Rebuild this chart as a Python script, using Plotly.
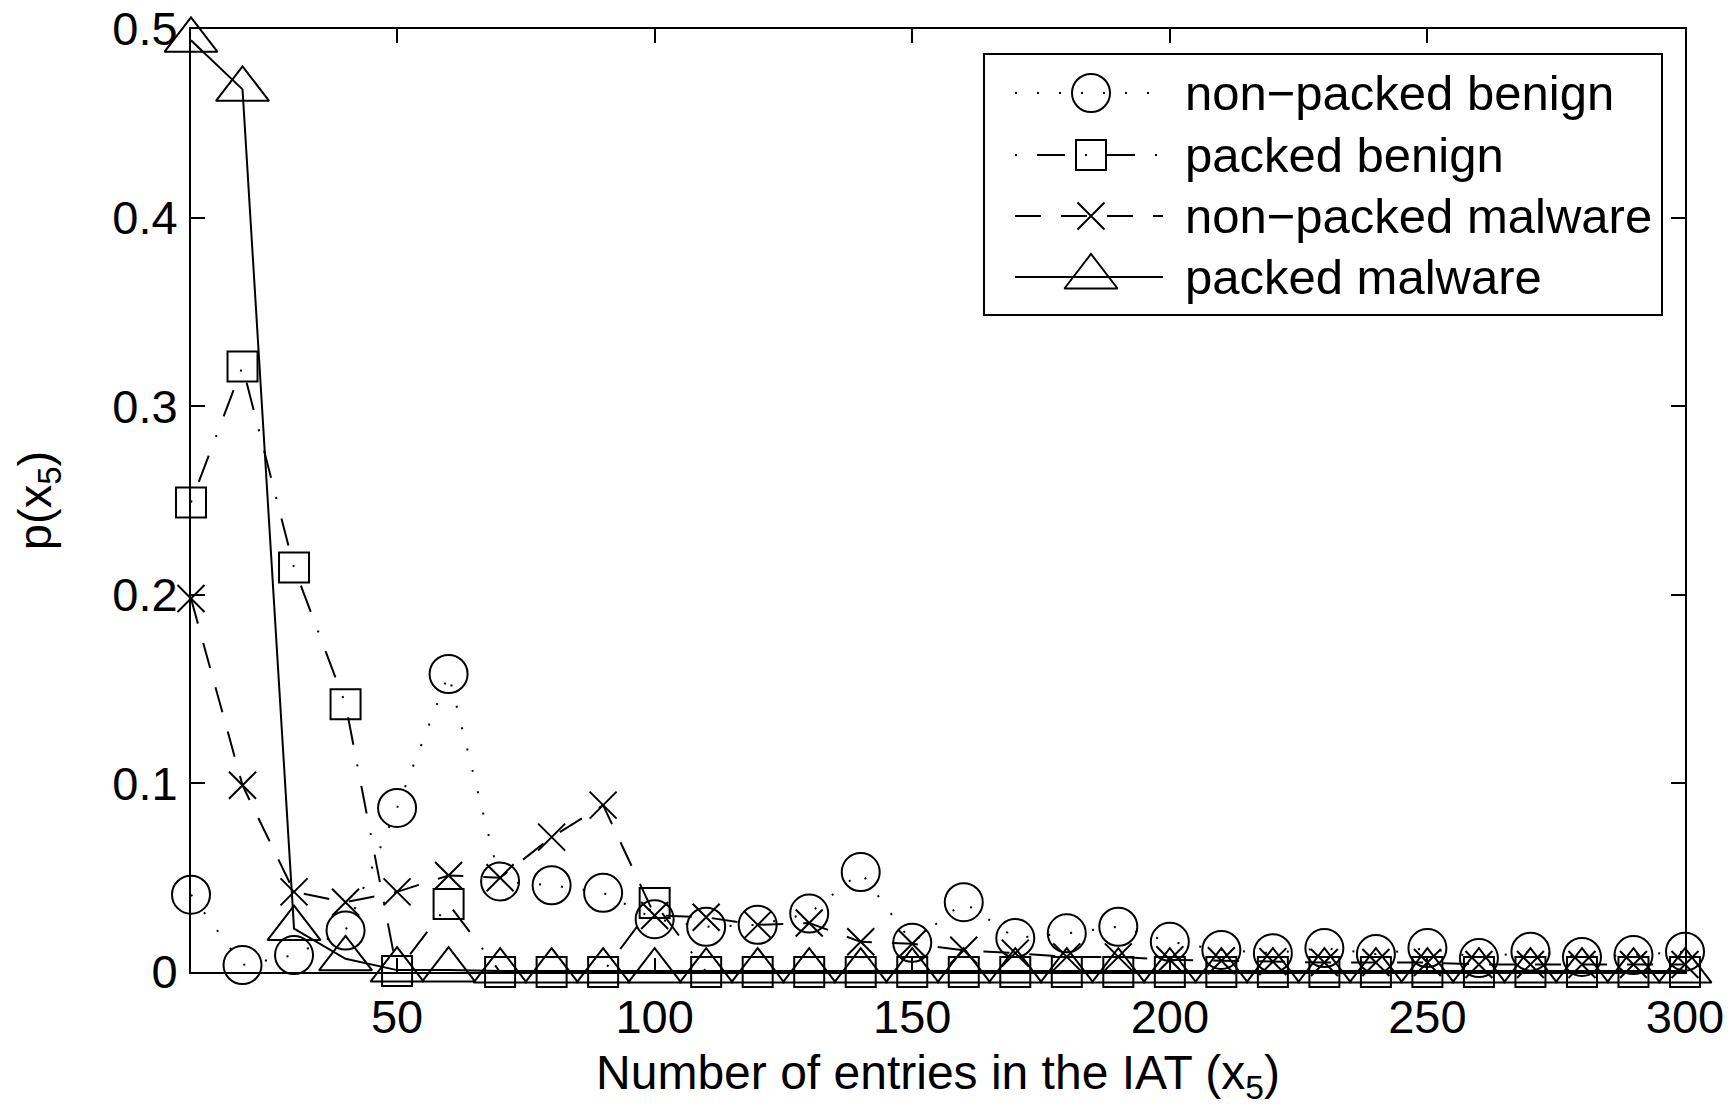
import plotly.graph_objects as go

# ---------------- data ----------------
x_vals = [10, 20, 30, 40, 50, 60, 70, 80, 90, 100,
          110, 120, 130, 140, 150, 160, 170, 180, 190, 200,
          210, 220, 230, 240, 250, 260, 270, 280, 290, 300]

non_packed_benign = [0.041, 0.0037, 0.009, 0.022, 0.087, 0.158, 0.048, 0.046, 0.042, 0.028,
                     0.024, 0.025, 0.031, 0.053, 0.0155, 0.037, 0.018, 0.0205, 0.024, 0.016,
                     0.0117, 0.010, 0.0127, 0.0095, 0.0127, 0.0074, 0.0108, 0.008, 0.009, 0.0108]

packed_benign = [0.249, 0.321, 0.2145, 0.142, 0.0005, 0.036, 0.0, 0.0, 0.0, 0.0366,
                 0.0, 0.0, 0.0, 0.0, 0.0, 0.0, 0.0, 0.0, 0.0, 0.0,
                 0.0, 0.0, 0.0, 0.0, 0.0, 0.0, 0.0, 0.0, 0.0, 0.0]

non_packed_malware = [0.198, 0.099, 0.0425, 0.037, 0.0425, 0.0512, 0.050, 0.0715, 0.0885, 0.030,
                      0.029, 0.025, 0.026, 0.016, 0.015, 0.0115, 0.010, 0.008, 0.008, 0.0065,
                      0.006, 0.0055, 0.005, 0.005, 0.005, 0.004, 0.004, 0.004, 0.004, 0.004]

packed_malware = [0.494, 0.468, 0.023, 0.007, 0.001, 0.001, 0.0005, 0.0005, 0.0005, 0.0005,
                  0.0005, 0.0005, 0.0005, 0.0005, 0.0005, 0.0005, 0.0005, 0.0005, 0.0005, 0.0005,
                  0.0005, 0.0005, 0.0005, 0.0005, 0.0005, 0.0005, 0.0005, 0.0005, 0.0005, 0.0005]

series_names = ["non\u2212packed benign", "packed benign",
                "non\u2212packed malware", "packed malware"]

x_tick_vals = [50, 100, 150, 200, 250, 300]
y_tick_vals = [0, 0.1, 0.2, 0.3, 0.4, 0.5]
y_tick_text = ["0", "0.1", "0.2", "0.3", "0.4", "0.5"]

x_title = "Number of entries in the IAT (x<sub>5</sub>)"
y_title = "p(x<sub>5</sub>)"

# ---------------- layout constants ----------------
# the page body margin is removed by a post script, so the figure sits at (0, 0)
W, H = 1735, 1112
ML, MR, MT, MB = 191, 50, 29, 140
PW, PH = W - ML - MR, H - MT - MB
FONT = "Liberation Sans, Arial, Helvetica, sans-serif"

styles = [
    dict(symbol="circle-open", size=38, dash="2px,20px"),
    dict(symbol="square-open", size=30, dash="2px,20px,28px,20px"),
    dict(symbol="x-thin-open", size=27, dash="26px,20px"),
    dict(symbol="triangle-up-open", size=46, dash="solid"),
]
series = [non_packed_benign, packed_benign, non_packed_malware, packed_malware]

fig = go.Figure()
for name, ys, st in zip(series_names, series, styles):
    fig.add_trace(go.Scatter(
        x=x_vals, y=ys, name=name, mode="lines+markers",
        line=dict(color="black", width=2, dash=st["dash"]),
        marker=dict(symbol=st["symbol"], size=st["size"], color="black",
                    line=dict(color="black", width=2)),
        cliponaxis=False, showlegend=False,
    ))

# ---------------- custom legend (MATLAB style) ----------------
# positions given in screen pixels
def px_x(px):
    return (px - ML) / PW

def px_y(py):
    return (H - MB - py) / PH

leg_x0, leg_x1, leg_y0, leg_y1 = 984, 1662, 54, 315
row_y = [93, 155, 216, 277]
samp_x0, samp_x1, samp_xm, text_x = 1015, 1163, 1091, 1183

for name, st, ry in zip(series_names, styles, row_y):
    fig.add_trace(go.Scatter(
        x=[px_x(samp_x0), px_x(samp_x1)], y=[px_y(ry), px_y(ry)],
        xaxis="x2", yaxis="y2", mode="lines",
        line=dict(color="black", width=2, dash=st["dash"]),
        showlegend=False, hoverinfo="skip", cliponaxis=False,
    ))
    fig.add_trace(go.Scatter(
        x=[px_x(samp_xm)], y=[px_y(ry)],
        xaxis="x2", yaxis="y2", mode="markers",
        marker=dict(symbol=st["symbol"], size=st["size"], color="black",
                    line=dict(color="black", width=2)),
        showlegend=False, hoverinfo="skip", cliponaxis=False,
    ))
    fig.add_annotation(
        x=px_x(text_x), y=px_y(ry), xref="paper", yref="paper",
        text=name, showarrow=False, xanchor="left", yanchor="middle",
        font=dict(family=FONT, size=49, color="black"),
    )

fig.add_shape(type="rect", xref="paper", yref="paper",
              x0=px_x(leg_x0), x1=px_x(leg_x1), y0=px_y(leg_y1), y1=px_y(leg_y0),
              line=dict(color="black", width=2), fillcolor="rgba(0,0,0,0)")

axis_common = dict(
    showline=True, linecolor="black", linewidth=2, mirror="ticks",
    ticks="inside", ticklen=14, tickwidth=2, tickcolor="black",
    showgrid=False, zeroline=False, ticklabeloverflow="allow",
    tickfont=dict(family=FONT, size=47, color="black"),
)

fig.update_layout(
    width=W, height=H,
    margin=dict(l=ML, r=MR, t=MT, b=MB, autoexpand=False),
    paper_bgcolor="white", plot_bgcolor="white",
    font=dict(family=FONT, color="black"),
    xaxis=dict(range=[10, 300], tickvals=x_tick_vals,
               ticklabelstandoff=3,
               title=dict(text=x_title, font=dict(family=FONT, size=48), standoff=13),
               **axis_common),
    yaxis=dict(range=[0, 0.5], tickvals=y_tick_vals, ticktext=y_tick_text,
               ticklabelstandoff=2,
               title=dict(text=y_title, font=dict(family=FONT, size=47), standoff=46),
               **axis_common),
    xaxis2=dict(range=[0, 1], domain=[0, 1], overlaying="x", anchor="y2", visible=False),
    yaxis2=dict(range=[0, 1], domain=[0, 1], overlaying="y", anchor="x2", visible=False),
)

fig.write_html(
    "out.html",
    config={"displayModeBar": False},
    post_script="document.body.style.margin='0';document.body.style.overflow='hidden';",
)
